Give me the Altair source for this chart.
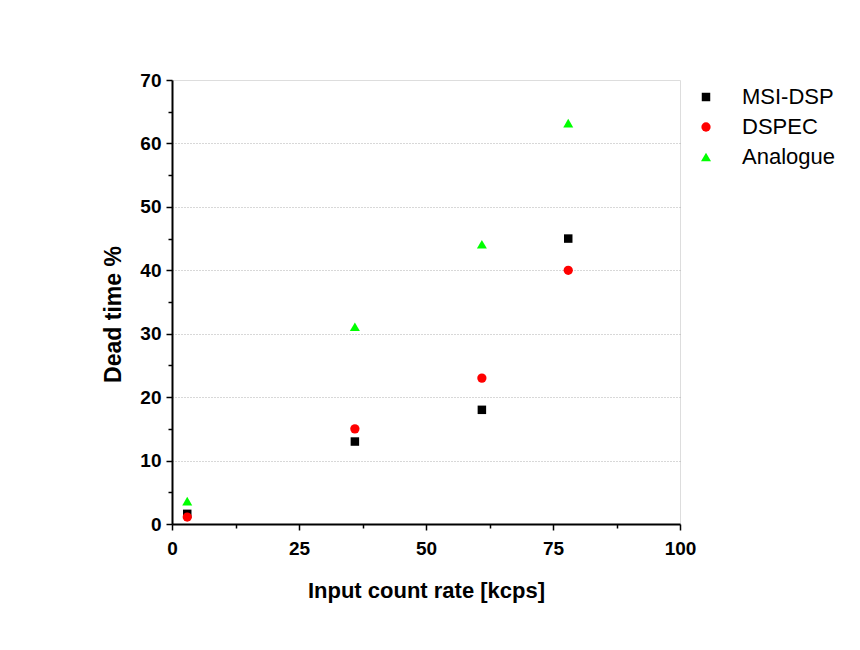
import altair as alt
import pandas as pd

series = ["MSI-DSP", "DSPEC", "Analogue"]
rate = [3, 36, 61, 78]
msi_dsp = [1.6, 13, 18, 45]
dspec = [1.1, 15, 23, 40]
analogue = [3.6, 31.1, 44.1, 63.2]

colors = ["#000000", "#ff0000", "#00ff00"]
shapes = ["square", "circle", "triangle-up"]
marker_sizes = [72, 100, 160]

x_ticks = [0, 12.5, 25, 37.5, 50, 62.5, 75, 87.5, 100]
y_ticks = [0, 5, 10, 15, 20, 25, 30, 35, 40, 45, 50, 55, 60, 65, 70]

rows = []
for name, vals in zip(series, [msi_dsp, dspec, analogue]):
    for r, v in zip(rate, vals):
        rows.append({"rate": r, "dead": v, "series": name})
df = pd.DataFrame(rows)

FONT = "Liberation Sans"

x_axis = alt.Axis(
    values=x_ticks,
    labelExpr="datum.value % 25 === 0 ? datum.label : ''",
    tickSize={"condition": {"test": "datum.value % 25 === 0", "value": 6}, "value": 4},
    grid=False,
    title="Input count rate [kcps]",
    titleFont=FONT, titleFontSize=22, titleFontWeight="bold", titleColor="#000",
    titlePadding=22,
    labelFont=FONT, labelFontSize=19, labelFontWeight="bold", labelColor="#000",
    labelPadding=9, labelFlush=False, labelOverlap=False,
    domainColor="#000", domainWidth=2, tickColor="#000", tickWidth=1.5,
)

y_axis = alt.Axis(
    values=y_ticks,
    labelExpr="datum.value % 10 === 0 ? datum.label : ''",
    tickSize={"condition": {"test": "datum.value % 10 === 0", "value": 6}, "value": 4},
    grid=True,
    gridColor="#b0b0b0", gridDash=[1, 2], gridWidth=1,
    gridOpacity={"condition": {"test": "datum.value % 10 === 0 && datum.value > 0 && datum.value < 70", "value": 1}, "value": 0},
    title="Dead time %",
    titleFont=FONT, titleFontSize=23, titleFontWeight="bold", titleColor="#000",
    titlePadding=14, titleY=234,
    labelFont=FONT, labelFontSize=19, labelFontWeight="bold", labelColor="#000",
    labelPadding=5, labelOverlap=False,
    domainColor="#000", domainWidth=2, tickColor="#000", tickWidth=1.5,
)

legend = alt.Legend(
    title=None, orient="none", legendX=523, legendY=6,
    labelFont=FONT, labelFontSize=22, labelColor="#000",
    symbolSize=150, symbolStrokeWidth=0, labelOffset=25, rowPadding=8, padding=0,
    symbolOpacity=1,
)

chart = alt.Chart(df).mark_point(filled=True, opacity=1, strokeWidth=0).encode(
    x=alt.X("rate:Q", scale=alt.Scale(domain=[0, 100], nice=False), axis=x_axis),
    y=alt.Y("dead:Q", scale=alt.Scale(domain=[0, 70], nice=False), axis=y_axis),
    color=alt.Color("series:N", scale=alt.Scale(domain=series, range=colors), legend=legend),
    shape=alt.Shape("series:N", scale=alt.Scale(domain=series, range=shapes), legend=legend),
    size=alt.Size("series:N", scale=alt.Scale(domain=series, range=marker_sizes), legend=None),
).properties(
    width=508, height=444,
    padding={"left": 164, "top": 72, "right": 170, "bottom": 100},
    autosize=alt.AutoSizeParams(type="none"),
).configure_view(
    stroke="#8c8c8c", strokeWidth=1.5
).configure(background="white")

chart.save("out.html", embed_options={"renderer": "svg", "actions": False})
